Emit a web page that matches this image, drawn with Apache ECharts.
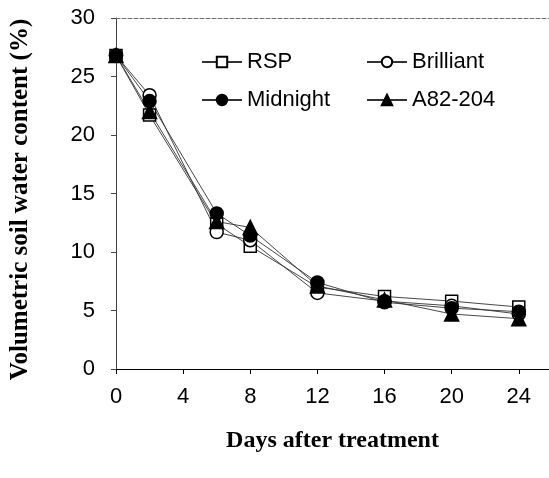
<!DOCTYPE html>
<html>
<head>
<meta charset="utf-8">
<script src="https://cdn.jsdelivr.net/npm/echarts@6/dist/echarts.min.js"></script>
<style>html,body{margin:0;padding:0;background:#fff;}#c{width:549px;height:478px;}</style>
</head>
<body>
<div id="c"></div>
<script>
const days = [0, 2, 6, 8, 12, 16, 20, 24];
const rsp = [26.8, 21.7, 12.4, 10.5, 7.0, 6.2, 5.8, 5.3];
const brilliant = [26.8, 23.4, 11.7, 11.0, 6.5, 5.8, 5.4, 4.7];
const midnight = [26.8, 22.9, 13.3, 11.4, 7.4, 5.7, 5.2, 4.9];
const a82 = [26.8, 22.0, 12.6, 12.1, 7.1, 5.9, 4.7, 4.3];
const xTicks = [0, 4, 8, 12, 16, 20, 24];

const names = ['RSP', 'Brilliant', 'Midnight', 'A82-204'];
const values = [rsp, brilliant, midnight, a82];
const symbols = ['rect', 'circle', 'circle', 'triangle'];
const fills = ['#fff', '#fff', '#000', '#000'];
const sizes = [12, 13, 13, 14];

const series = names.map((n, i) => ({
  name: n,
  type: 'line',
  data: days.map((d, j) => [d, values[i][j]]),
  symbol: symbols[i],
  symbolSize: sizes[i],
  showAllSymbol: true,
  lineStyle: { color: '#333', width: 0.9 },
  itemStyle: { color: fills[i], borderColor: '#000', borderWidth: 1.5 },
  emphasis: { disabled: true },
  animation: false
}));

const chart = echarts.init(document.getElementById('c'));
const legendCommon = {
  orient: 'vertical',
  top: 46,
  itemWidth: 40,
  itemHeight: 13,
  itemGap: 16,
  textStyle: { fontFamily: 'Liberation Sans, Arial', fontSize: 22, color: '#000' },
  selectedMode: false
};
chart.setOption({
  animation: false,
  legend: [
    Object.assign({ left: 196, data: ['RSP', 'Midnight'] }, legendCommon),
    Object.assign({ left: 361, data: ['Brilliant', 'A82-204'] }, legendCommon)
  ],
  grid: { left: 113, right: 0, top: 18, bottom: 109, containLabel: false },
  xAxis: [{
    type: 'value', min: 0, max: 25.8, interval: 4,
    name: 'Days after treatment', nameLocation: 'middle', nameGap: 60,
    nameTextStyle: { fontFamily: 'Liberation Serif, Times New Roman', fontWeight: 'bold', fontSize: 24, color: '#000' },
    axisLine: { lineStyle: { color: '#000', width: 1 } },
    axisTick: { show: true, length: 5, lineStyle: { color: '#000' }, customValues: xTicks },
    axisLabel: { margin: 17, fontFamily: 'Liberation Sans, Arial', fontSize: 22, color: '#000',
      customValues: xTicks,
      formatter: v => (v % 4 === 0 ? String(v) : '') },
    splitLine: { show: false }
  }, {
    type: 'value', position: 'top', min: 0, max: 25.8,
    axisLine: { show: true, lineStyle: { color: '#777', width: 1, type: [4, 2] } },
    axisTick: { show: false }, axisLabel: { show: false }, splitLine: { show: false }
  }],
  yAxis: {
    type: 'value', min: 0, max: 30, interval: 5,
    name: 'Volumetric soil water content (%)', nameLocation: 'middle', nameGap: 83,
    nameTextStyle: { fontFamily: 'Liberation Serif, Times New Roman', fontWeight: 'bold', fontSize: 25, color: '#000', padding: [0, 12, 0, 0] },
    axisLine: { show: true, lineStyle: { color: '#444', width: 1 } },
    axisTick: { show: true, length: 5, lineStyle: { color: '#444' } },
    axisLabel: { margin: 21, fontFamily: 'Liberation Sans, Arial', fontSize: 22, color: '#000' },
    splitLine: { show: false }
  },
  series: series
});
</script>
</body>
</html>
